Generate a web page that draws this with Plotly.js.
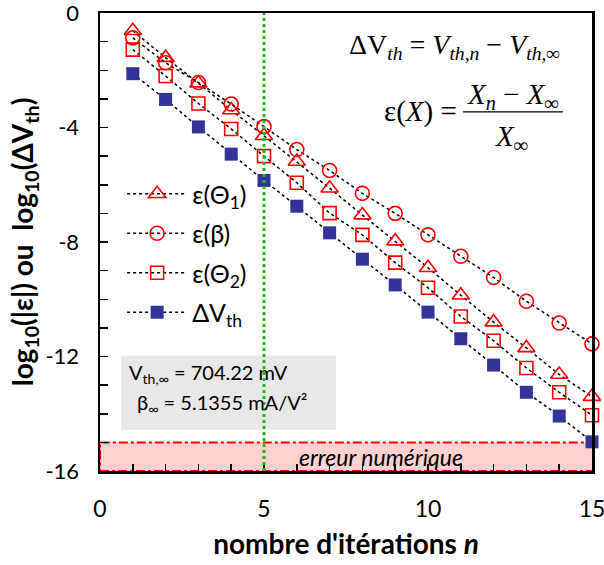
<!DOCTYPE html>
<html><head><meta charset="utf-8">
<script src="https://cdn.plot.ly/plotly-3.0.1.min.js"></script>
<style>body{margin:0;background:#fff}#c{width:604px;height:565px}</style>
</head><body><div id="c"></div>
<script>
const iterations = [1,2,3,4,5,6,7,8,9,10,11,12,13,14,15];
const epsTheta1 = [-0.62,-1.56,-2.45,-3.39,-4.29,-5.19,-6.12,-7.06,-7.97,-8.9,-9.86,-10.8,-11.7,-12.63,-13.4];
const epsBeta   = [-0.87,-1.74,-2.43,-3.18,-3.97,-4.77,-5.5,-6.3,-7.0,-7.75,-8.5,-9.24,-10.07,-10.83,-11.56];
const epsTheta2 = [-1.28,-2.2,-3.16,-4.05,-5.0,-5.93,-6.99,-7.75,-8.72,-9.6,-10.6,-11.45,-12.4,-13.25,-14.05];
const deltaVth  = [-2.12,-3.02,-3.98,-4.93,-5.85,-6.75,-7.68,-8.6,-9.5,-10.45,-11.38,-12.3,-13.25,-14.08,-14.98];
const seriesNames = ['ε(Θ<sub>1</sub>)','ε(β)<sub> </sub>','ε(Θ<sub>2</sub>)','ΔV<sub>th</sub>'];
const numErrLevel = -15;
const xTickVals = [0,5,10,15];
const yTickVals = [0,-4,-8,-12,-16];

const red = '#ff0000', navy = '#333399';
const lineStyle = {color:'#000', width:1.5, dash:'dot'};
function tr(y, name, sym, col, sz, fill, g){
  return {x:iterations, y:y, name:name, mode:'lines+markers', type:'scatter',
    legendgroup:g, line:lineStyle, cliponaxis:false,
    marker:{symbol:sym, size:sz, color:col, line:{color:col, width:fill?0:1.6}}};
}
const data = [
  tr(epsTheta1, seriesNames[0], 'triangle-up-open', red, 15, false, 'a'),
  tr(epsBeta, seriesNames[1], 'circle-open', red, 14, false, 'b'),
  tr(epsTheta2, seriesNames[2], 'square-open', red, 13, false, 'c'),
  tr(deltaVth, seriesNames[3], 'square', navy, 13, true, 'd')
];
const font = 'Lato, "Open Sans", sans-serif';
const serif = '"Liberation Serif", "DejaVu Serif", serif';
const layout = {
  width:604, height:565,
  margin:{l:100, r:12, t:13, b:94},
  paper_bgcolor:'#fff', plot_bgcolor:'#fff',
  font:{family:font, color:'#000', size:22},
  showlegend:true,
  legend:{x:0.045, y:0.655, xanchor:'left', yanchor:'top', bgcolor:'rgba(0,0,0,0)',
    font:{size:25, family:font}, itemwidth:60, tracegroupgap:4},
  xaxis:{range:[0,15], showgrid:false, zeroline:false, showline:true, linecolor:'#000', linewidth:2.5, mirror:true,
    tickvals:xTickVals, ticks:'inside', ticklen:7, tickwidth:1.5, tickcolor:'#000', ticklabelstandoff:16,
    ticklabeloverflow:'allow',
    minor:{dtick:1, ticks:'inside', ticklen:7, tickwidth:1.5, tickcolor:'#000'},
    tickfont:{size:23},
    title:{text:"<b>nombre d'itérations <i>n</i></b>", font:{size:28}, standoff:14}},
  yaxis:{range:[-16,0], showgrid:false, zeroline:false, showline:true, linecolor:'#000', linewidth:2.5, mirror:true,
    tickvals:yTickVals, ticktext:['0','-4','-8','-12','-16'], ticks:'inside', ticklen:8, tickwidth:1.5, tickcolor:'#000', ticklabelstandoff:14,
    ticklabeloverflow:'allow',
    minor:{dtick:1, ticks:'inside', ticklen:8, tickwidth:1.5, tickcolor:'#000'},
    tickfont:{size:22},
    title:{text:'<b>log<sub>10</sub>(|ε|) ou  log<sub>10</sub>(ΔV<sub>th</sub>)</b>', font:{size:28}, standoff:4}},
  shapes:[
    {type:'rect', xref:'x', yref:'y', x0:0, x1:15.08, y0:-16, y1:numErrLevel, fillcolor:'rgba(255,0,0,0.18)',
      line:{color:red, width:2, dash:'dashdot'}, layer:'below'},
    {type:'line', xref:'x', yref:'y', x0:5, x1:5, y0:-16, y1:0, line:{color:'#1fb81f', width:3, dash:'dot'}},
    {type:'rect', xref:'x', yref:'y', x0:0.64, x1:7.2, y0:-14.57, y1:-11.97, fillcolor:'#e8e8e8', line:{width:0}, layer:'below'},
    {type:'line', xref:'paper', yref:'paper', x0:0.738, x1:0.941, y0:0.784, y1:0.784, line:{color:'#000', width:1.3}}
  ],
  annotations:[
    {xref:'x', yref:'y', x:8.57, y:-15.5, text:'<i>erreur numérique</i>', showarrow:false, font:{size:23, family:font}},
    {xref:'x', yref:'y', x:0.82, y:-12.6, xanchor:'left', text:'V<sub>th,∞</sub> = 704.22 mV', showarrow:false, font:{size:20, family:font}},
    {xref:'x', yref:'y', x:1.07, y:-13.63, xanchor:'left', text:'β<sub>∞</sub> = 5.1355 mA/V²', showarrow:false, font:{size:20, family:font}},
    {xref:'paper', yref:'paper', x:0.72, y:0.926, xanchor:'center', yanchor:'middle', text:'ΔV<i><sub>th</sub></i> = <i>V<sub>th,n</sub></i> − <i>V<sub>th,∞</sub></i>', showarrow:false, font:{size:28, family:serif}},
    {xref:'paper', yref:'paper', x:0.73, y:0.784, xanchor:'right', yanchor:'middle', text:'ε(<i>X</i>) =', showarrow:false, font:{size:29, family:serif}},
    {xref:'paper', yref:'paper', x:0.839, y:0.818, xanchor:'center', yanchor:'middle', text:'<i>X<sub>n</sub></i> − <i>X<sub>∞</sub></i>', showarrow:false, font:{size:29, family:serif}},
    {xref:'paper', yref:'paper', x:0.837, y:0.727, xanchor:'center', yanchor:'middle', text:'<i>X<sub>∞</sub></i>', showarrow:false, font:{size:29, family:serif}}
  ]
};
Plotly.newPlot('c', data, layout, {displayModeBar:false, staticPlot:true});
</script></body></html>
